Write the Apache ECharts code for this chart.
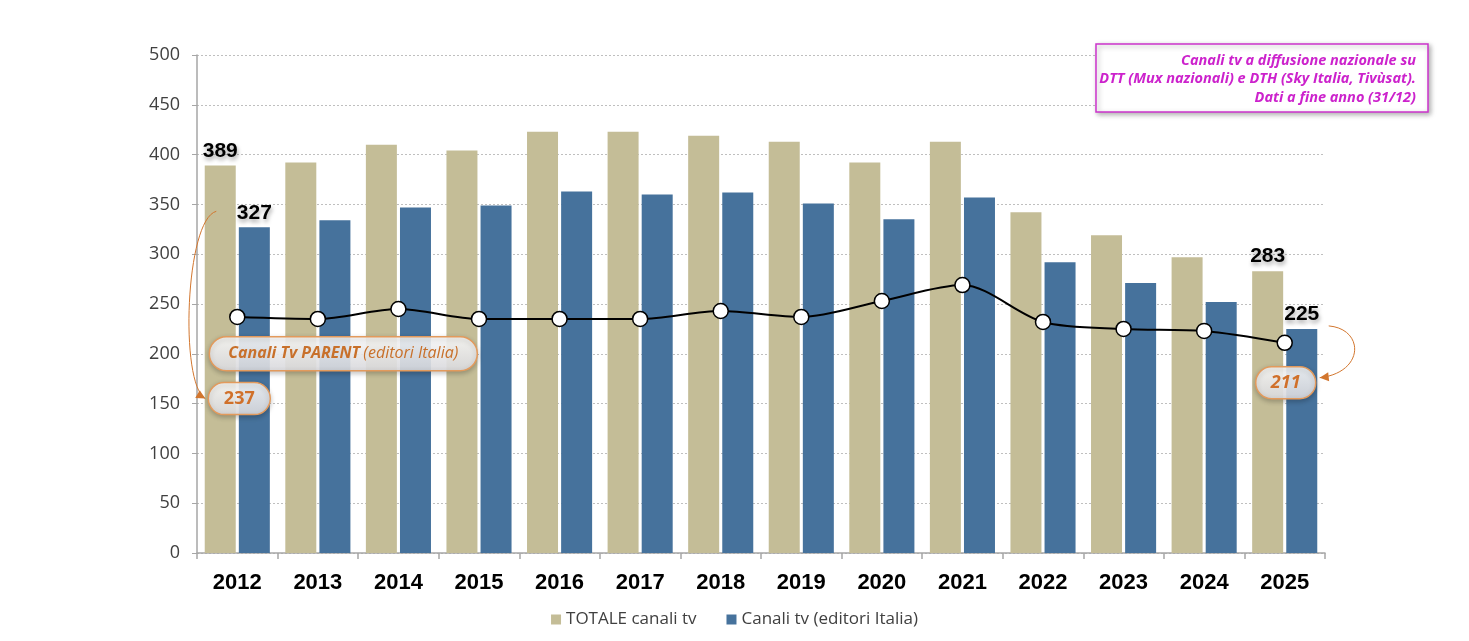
<!DOCTYPE html>
<html>
<head>
<meta charset="utf-8">
<script src="https://cdn.jsdelivr.net/npm/echarts@6/dist/echarts.min.js"></script>
<style>
  html, body { margin: 0; padding: 0; background: #fff; }
  #main { width: 1469px; height: 641px; }
</style>
</head>
<body>
<div id="main"></div>
<script>
const years = ['2012', '2013', '2014', '2015', '2016', '2017', '2018', '2019', '2020', '2021', '2022', '2023', '2024', '2025'];
const totaleCanali = [389, 392, 410, 404, 423, 423, 419, 413, 392, 413, 342, 319, 297, 283];
const canaliEditori = [327, 334, 347, 349, 363, 360, 362, 351, 335, 357, 292, 271, 252, 225];
const canaliParent = [237, 235, 245, 235, 235, 235, 243, 237, 253, 269, 232, 225, 223, 211];

const TAN = '#C4BD97';
const BLUE = '#46729C';
const ORANGE = '#D2762E';
const FONT = '"Open Sans", sans-serif';

const last = years.length - 1;

// only first and last bars get a value label
function withEndLabels(arr) {
  return arr.map((v, i) => ({
    value: v,
    label: { show: i === 0 || i === last }
  }));
}

const barLabel = {
  position: 'top',
  distance: 4,
  color: '#000',
  fontFamily: '"Liberation Sans", Arial, sans-serif',
  fontWeight: 'bold',
  fontSize: 21,
  textShadowColor: 'rgba(0,0,0,0.35)',
  textShadowBlur: 4,
  textShadowOffsetX: 1,
  textShadowOffsetY: 3
};

const chart = echarts.init(document.getElementById('main'));

chart.setOption({
  animation: false,
  grid: { left: 197, right: 144, top: 55, bottom: 88, containLabel: false },
  legend: {
    bottom: 8,
    left: 'center',
    icon: 'rect',
    itemWidth: 10,
    itemHeight: 10,
    itemGap: 30,
    textStyle: { fontFamily: FONT, fontSize: 17, color: '#404040' },
    data: ['TOTALE canali tv', 'Canali tv (editori Italia)']
  },
  xAxis: {
    type: 'category',
    data: years,
    axisLine: { lineStyle: { color: '#A6A6A6', width: 1.5 } },
    axisTick: { show: true, length: 6, lineStyle: { color: '#A6A6A6', width: 1.5 } },
    axisLabel: {
      margin: 19,
      color: '#000',
      fontFamily: '"Liberation Sans", Arial, sans-serif',
      fontWeight: 'bold',
      fontSize: 22
    }
  },
  yAxis: {
    type: 'value',
    min: 0,
    max: 500,
    interval: 50,
    axisLine: { show: true, lineStyle: { color: '#A6A6A6', width: 1.5 } },
    axisTick: { show: true, length: 5, lineStyle: { color: '#A6A6A6' } },
    axisLabel: { margin: 17, color: '#404040', fontFamily: FONT, fontSize: 18 },
    splitLine: { lineStyle: { color: '#BFBFBF', type: [2, 2], width: 1 } }
  },
  series: [
    {
      name: 'TOTALE canali tv',
      type: 'bar',
      data: withEndLabels(totaleCanali),
      barWidth: 31,
      barGap: '10%',
      itemStyle: { color: TAN },
      label: barLabel
    },
    {
      name: 'Canali tv (editori Italia)',
      type: 'bar',
      data: withEndLabels(canaliEditori),
      barWidth: 31,
      itemStyle: { color: BLUE },
      label: barLabel
    },
    {
      name: 'Canali Tv PARENT',
      type: 'line',
      data: canaliParent,
      smooth: 0.3,
      z: 5,
      symbol: 'circle',
      symbolSize: 15,
      lineStyle: { color: '#000', width: 2 },
      itemStyle: { color: '#fff', borderColor: '#000', borderWidth: 1.5 }
    }
  ]
});

// positions for the callouts, taken from the chart's own scales
const c0 = chart.convertToPixel({ xAxisIndex: 0 }, 0);
const step = chart.convertToPixel({ xAxisIndex: 0 }, 1) - c0;
const X = i => c0 + i * step;
const Y = v => chart.convertToPixel({ yAxisIndex: 0 }, v);

function arrowHead(tip, from) {
  const dx = tip[0] - from[0], dy = tip[1] - from[1];
  const len = Math.sqrt(dx * dx + dy * dy);
  const ux = dx / len, uy = dy / len;
  const bx = tip[0] - ux * 9, by = tip[1] - uy * 9;
  return {
    type: 'polygon',
    z: 100,
    shape: { points: [tip, [bx - uy * 4.5, by + ux * 4.5], [bx + uy * 4.5, by - ux * 4.5]] },
    style: { fill: ORANGE }
  };
}

function pill(cx, cy, w, h, content) {
  return {
    type: 'group',
    z: 100,
    children: [
      {
        type: 'rect',
        z: 100,
        shape: { x: cx - w / 2, y: cy - h / 2, width: w, height: h, r: h / 2 },
        style: {
          fill: new echarts.graphic.LinearGradient(0, 0, 0, 1, [
            { offset: 0, color: 'rgba(255,255,255,0.88)' },
            { offset: 1, color: 'rgba(222,222,226,0.88)' }
          ]),
          stroke: '#E39A5C',
          lineWidth: 1.5,
          shadowBlur: 5,
          shadowColor: 'rgba(0,0,0,0.25)',
          shadowOffsetY: 2
        }
      },
      {
        type: 'text',
        z: 101,
        x: cx,
        y: cy,
        style: Object.assign({ align: 'center', verticalAlign: 'middle' }, content)
      }
    ]
  };
}

const a1s = [X(0) - 21, Y(327) - 16];
const a1e = [X(0) - 32, Y(155)];
const a1c2 = [X(0) - 58, Y(155) - 15];
const a2s = [X(last) + 44, Y(225) - 3];
const a2e = [X(last) + 35, Y(171) - 5];
const a2c2 = [X(last) + 80, Y(171) - 10];

chart.setOption({
  graphic: [
    {
      type: 'bezierCurve',
      z: 100,
      shape: { x1: a1s[0], y1: a1s[1], cpx1: X(0) - 52, cpy1: Y(327) - 8, cpx2: a1c2[0], cpy2: a1c2[1], x2: a1e[0], y2: a1e[1] },
      style: { stroke: ORANGE, lineWidth: 1, fill: null }
    },
    arrowHead(a1e, a1c2),
    {
      type: 'bezierCurve',
      z: 100,
      shape: { x1: a2s[0], y1: a2s[1], cpx1: X(last) + 80, cpy1: Y(225), cpx2: a2c2[0], cpy2: a2c2[1], x2: a2e[0], y2: a2e[1] },
      style: { stroke: ORANGE, lineWidth: 1, fill: null }
    },
    arrowHead(a2e, a2c2),
    pill(X(0) + 106, Y(200), 268, 34, {
      text: '{b|Canali Tv PARENT} {i|(editori Italia)}',
      rich: {
        b: { fontFamily: FONT, fontSize: 16, fontWeight: 'bold', fontStyle: 'italic', fill: '#C8702A' },
        i: { fontFamily: FONT, fontSize: 16, fontStyle: 'italic', fill: '#C8702A' }
      }
    }),
    pill(X(0) + 2, Y(155), 62, 32, {
      text: '237',
      fontFamily: FONT, fontSize: 18, fontWeight: 'bold', fill: '#D0702A'
    }),
    pill(X(last) + 1, Y(171), 60, 32, {
      text: '211',
      fontFamily: FONT, fontSize: 18, fontWeight: 'bold', fontStyle: 'italic', fill: '#D0702A'
    }),
    {
      type: 'group',
      z: 100,
      children: [
        {
          type: 'rect',
          z: 100,
          shape: { x: 1096, y: 44, width: 332, height: 68 },
          style: {
            fill: '#fff',
            stroke: '#CC33CC',
            lineWidth: 1.5,
            shadowBlur: 5,
            shadowColor: 'rgba(0,0,0,0.3)',
            shadowOffsetX: 2,
            shadowOffsetY: 2
          }
        },
        {
          type: 'text',
          z: 101,
          x: 1416,
          y: 79,
          style: {
            text: 'Canali tv a diffusione nazionale su\nDTT (Mux nazionali) e DTH (Sky Italia, Tivùsat).\nDati a fine anno (31/12)',
            align: 'right',
            verticalAlign: 'middle',
            lineHeight: 18.5,
            fontFamily: FONT,
            fontSize: 14.5,
            fontWeight: 'bold',
            fontStyle: 'italic',
            fill: '#CC22CC'
          }
        }
      ]
    }
  ]
});
</script>
</body>
</html>
